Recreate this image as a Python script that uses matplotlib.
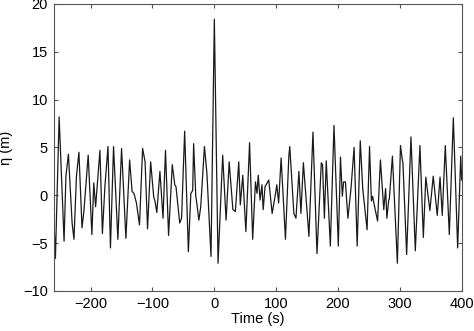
import matplotlib
matplotlib.use("Agg")
import matplotlib.pyplot as plt

plt.rcParams['font.family'] = ['Liberation Sans', 'DejaVu Sans']

# time (s) and surface elevation (m) (peaks, troughs, shoulders)
time = [-262, -257, -251, -243, -240, -236, -230, -227, -223, -219, -214, -211, -204, -198,
        -195, -192, -185, -181, -177, -172, -168, -163, -156, -150, -143, -137, -133, -130,
        -126, -121, -116, -112, -108, -103, -98, -96, -93, -88, -83, -79, -74, -68, -64,
        -62, -56, -53, -48, -42, -38, -35, -33.5, -30, -29, -25, -22, -16, -12, -5.4, 0,
        6, 13.5, 19, 24, 30, 34, 39.5, 42, 46, 51, 57, 62, 66.5, 69, 71, 74, 77, 79, 82,
        88, 93.5, 99, 101, 104, 108, 115, 120.5, 122, 128.6, 132, 136.8, 140, 144, 153,
        159.5, 166, 173, 175, 178, 181, 187.6, 193.5, 200.5, 204, 207, 209, 212, 216, 219,
        221, 226, 231, 236, 240, 247, 251, 254, 256, 258, 264, 268.6, 274, 277, 279, 282,
        283, 288, 296, 301, 304, 305, 311, 318, 325, 332.5, 338, 342, 348.6, 354, 360.5,
        365, 368.6, 373.5, 380, 386.5, 393.5, 398.5, 400]
eta = [1.8, -6.6, 8.2, -4.8, 2.0, 4.3, -2.9, -4.6, 2.0, 4.5, -3.4, -1.7, 4.2, -4.1,
       1.3, -1.2, 4.7, -4.0, 0.9, 5.1, -5.5, 5.1, -4.6, 4.9, -4.5, 3.7, 0.4, 0.2,
       -0.8, -3.1, 4.9, 3.5, -3.5, 3.5, -0.2, -0.6, -1.8, 2.5, -2.4, 4.7, -4.2, 3.2, 1.1,
       0.9, -2.9, -2.4, 6.7, -5.9, 0.2, 0.5, 5.4, -0.1, -0.5, -2.6, -1.2, 5.1, 2.3, -6.4, 18.4,
       -7.1, 4.2, -2.6, 3.5, -1.5, -1.7, 3.5, -1.0, 2.1, -3.8, 5.5, -4.6, 1.4, 0.2, 2.1, -0.5, 1.1, -1.5, 0.9,
       1.6, -1.9, 0.2, 1.1, -0.8, 3.9, -4.6, 4.1, 5.1, -1.9, -2.4, 2.5, -1.9, 3.4, -4.3,
       6.6, -6.1, 3.4, 3.2, -2.4, 3.6, -5.3, 7.3, -5.3, 4.0, -0.1, 1.4, 1.4, -2.4, -0.6,
       0.7, 5.0, -5.3, 5.7, 0.7, -3.6, 5.1, -0.6, -0.1, -0.8, -2.7, 3.7, -1.5, 0.7, -2.4, -0.5,
       -0.4, 4.1, -7.1, 5.2, 3.7, 3.4, -6.2, 6.1, -5.8, 5.2, -4.4, 1.9, -1.6, 2.0, -2.1,
       1.9, -2.1, 5.2, -4.1, 8.1, -5.5, 4.1, 1.6]

fig = plt.figure(figsize=(4.74, 3.31), dpi=100)
ax = fig.add_axes([0.113, 0.121, 0.861, 0.867])
ax.plot(time, eta, color='#1a1a1a', linewidth=0.9, solid_joinstyle='round')

ax.set_xlim(-260, 400)
ax.set_ylim(-10, 20)
ax.set_xticks([-200, -100, 0, 100, 200, 300, 400])
ax.set_yticks([-10, -5, 0, 5, 10, 15, 20])
ax.set_xticklabels(['\u2212200', '\u2212100', '0', '100', '200', '300', '400'])
ax.set_yticklabels(['\u221210', '\u22125', '0', '5', '10', '15', '20'])
ax.tick_params(direction='in', top=True, right=True, labelsize=10.5, length=3,
               color='#555555', pad=4)
for s in ax.spines.values():
    s.set_color('#555555')
    s.set_linewidth(0.8)

ax.set_xlabel('Time (s)', fontsize=10.5, labelpad=1)
ax.set_ylabel('\u03b7 (m)', fontsize=10.5, labelpad=7)

fig.savefig('out.png', dpi=100)
